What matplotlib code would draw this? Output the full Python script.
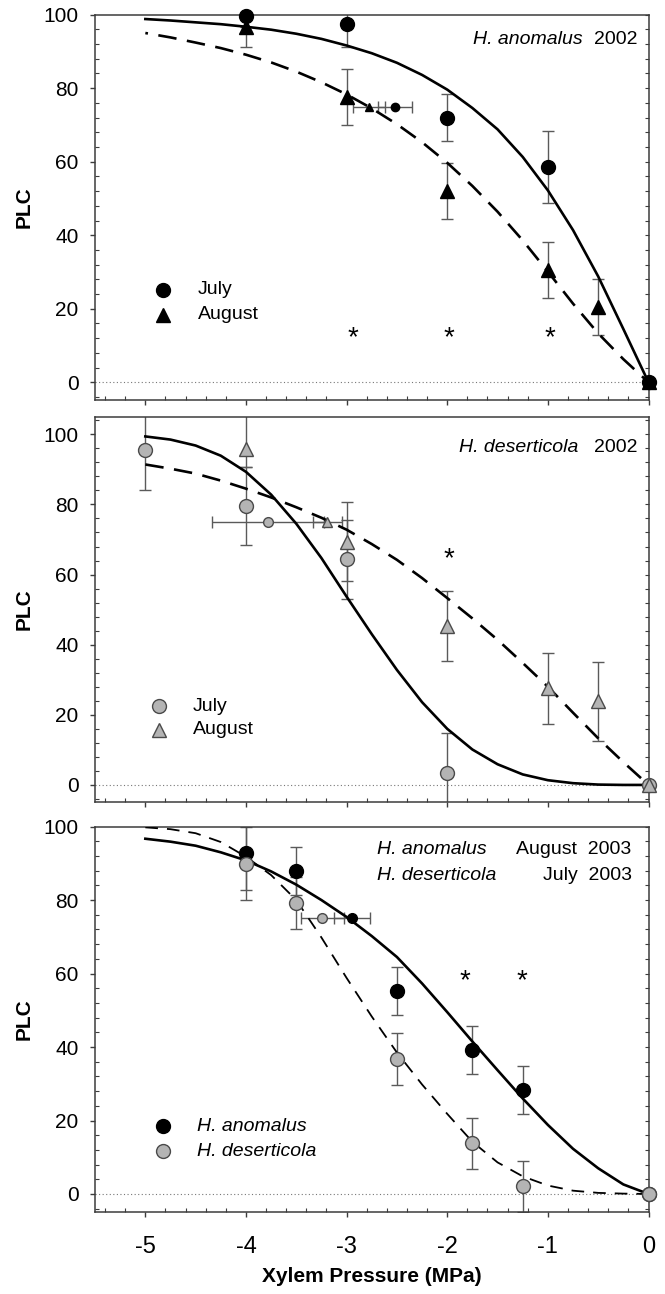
import numpy as np
import matplotlib.pyplot as plt
from matplotlib.ticker import MultipleLocator

plt.rcParams['font.family'] = ['Liberation Sans', 'DejaVu Sans']

GRAY = '#b4b4b4'
EDGE = '#4a4a4a'
ERRC = '#5a5a5a'

# fitted curves, every 0.25 MPa
fit_x = [-5.0, -4.75, -4.5, -4.25, -4.0, -3.75, -3.5, -3.25, -3.0, -2.75, -2.5,
         -2.25, -2.0, -1.75, -1.5, -1.25, -1.0, -0.75, -0.5, -0.25, 0.0]

# --- panel 1: H. anomalus 2002
a02_jul_fit = [98.8, 98.4, 97.9, 97.4, 96.7, 95.9, 94.8, 93.4, 91.6, 89.5, 86.9,
               83.6, 79.6, 74.6, 68.8, 61.3, 52.2, 41.4, 28.8, 14.5, 0]
a02_aug_fit = [95.0, 93.8, 92.4, 90.9, 89.1, 87.0, 84.5, 81.6, 78.3, 74.5, 70.2,
               65.3, 59.7, 53.4, 46.4, 38.6, 30.1, 21.4, 13.3, 6.3, 0]
a02_jul_x = [-4, -3, -2, -1, 0]
a02_jul_y = [99.5, 97.5, 72, 58.5, 0]
a02_jul_e = [3, 6.4, 6.5, 9.8, 0]
a02_aug_x = [-4, -3, -2, -1, -0.5, 0]
a02_aug_y = [96.5, 77.5, 52, 30.5, 20.5, 0]
a02_aug_e = [5.2, 7.6, 7.7, 7.6, 7.6, 0]
a02_p50 = [-2.52, -2.78]      # July, August
a02_p50_e = [0.17, 0.16]
a02_stars = [-2.94, -1.98, -0.98]

# --- panel 2: H. deserticola 2002
d02_jul_fit = [99.4, 98.5, 96.8, 93.9, 89.3, 82.8, 74.5, 64.7, 53.7, 43.0, 32.8,
               23.6, 16.0, 10.1, 5.9, 3.0, 1.35, 0.5, 0.1, 0, 0]
d02_aug_fit = [91.4, 90.2, 88.8, 86.8, 84.5, 82.0, 79.2, 76.2, 72.8, 68.7, 64.2,
               59.0, 53.3, 47.5, 41.4, 34.8, 28.0, 20.6, 13.3, 6.5, 0]
d02_jul_x = [-5, -4, -3, -2, 0]
d02_jul_y = [95.4, 79.5, 64.4, 3.5, 0]
d02_jul_e = [11.2, 11.1, 11.3, 11.2, 0]
d02_aug_x = [-4, -3, -2, -1, -0.5, 0]
d02_aug_y = [95.8, 69.4, 45.4, 27.6, 23.9, 0]
d02_aug_lo = [5.2, 11.3, 10.0, 10.2, 11.4, 0]
d02_aug_hi = [10.0, 11.3, 10.0, 10.0, 11.2, 0]
d02_p50 = [-3.78, -3.19]
d02_p50_e = [0.56, 0.14]
d02_stars = [-1.98]

# --- panel 3: 2003
y03_ano_fit = [96.7, 95.9, 94.8, 93.0, 90.8, 87.8, 84.2, 80.0, 75.4, 70.2, 64.5,
               57.3, 49.5, 41.5, 33.7, 26.0, 18.8, 12.3, 7.0, 2.6, 0]
y03_des_fit = [99.8, 99.3, 98.2, 95.8, 91.8, 86.8, 80.0, 69.8, 58.8, 48.3, 38.5,
               29.8, 21.8, 14.2, 8.6, 4.8, 2.3, 0.9, 0.3, 0.1, 0]
y03_ano_x = [-4, -3.5, -2.5, -1.75, -1.25, 0]
y03_ano_y = [92.8, 87.9, 55.2, 39.2, 28.3, 0]
y03_ano_e = [10.0, 6.5, 6.5, 6.5, 6.5, 0]
y03_des_x = [-4, -3.5, -2.5, -1.75, -1.25, 0]
y03_des_y = [89.9, 79.2, 36.7, 13.8, 2.1, 0]
y03_des_e = [10.0, 7.0, 7.0, 6.9, 6.9, 0]
y03_p50 = [-2.95, -3.24]      # anomalus, deserticola
y03_p50_e = [0.18, 0.21]
y03_stars = [-1.82, -1.26]

TXT = 14

fig = plt.figure(figsize=(6.65, 12.94), dpi=100)
axes = [fig.add_axes([0.1429, 0.6909, 0.8323, 0.2978]),
        fig.add_axes([0.1429, 0.3804, 0.8323, 0.2975]),
        fig.add_axes([0.1429, 0.0631, 0.8323, 0.2981])]
ylims = [(-4.8, 100), (-4.8, 105), (-5, 100)]


def style(ax, ylim, bottom_labels):
    ax.set_xlim(-5.5, 0)
    ax.set_ylim(*ylim)
    for s in ax.spines.values():
        s.set_color('#3c3c3c')
        s.set_linewidth(1.1)
    ax.xaxis.set_major_locator(MultipleLocator(1))
    ax.xaxis.set_minor_locator(MultipleLocator(0.2))
    ax.yaxis.set_major_locator(MultipleLocator(20))
    ax.yaxis.set_minor_locator(MultipleLocator(4))
    ax.tick_params(axis='both', which='major', direction='out', length=3.8,
                   width=1, color='#3c3c3c', top=False, right=False)
    ax.tick_params(axis='both', which='minor', direction='in', length=3,
                   width=0.8, color='#3c3c3c', top=False, right=False)
    ax.tick_params(axis='y', which='major', labelsize=15, pad=8)
    ax.tick_params(axis='x', which='major', labelsize=17, pad=13,
                   labelbottom=bottom_labels)
    ax.axhline(0, color='#777777', lw=0.8, ls=(0, (1, 2.2)), zorder=1)
    ax.set_ylabel('PLC', fontsize=15, fontweight='bold')
    ax.yaxis.set_label_coords(-0.111, 0.5)
    # right side ticks point inward
    sec = ax.secondary_yaxis('right')
    sec.yaxis.set_major_locator(MultipleLocator(20))
    sec.yaxis.set_minor_locator(MultipleLocator(4))
    sec.tick_params(which='both', direction='in', length=3, width=0.8,
                    color='#3c3c3c', labelright=False)
    sec.spines['right'].set_visible(False)


def errs(ax, x, y, e, horizontal=False):
    kw = dict(fmt='none', ecolor=ERRC, elinewidth=1.0, capsize=4.5,
              capthick=1.0, zorder=2)
    if horizontal:
        ax.errorbar(x, y, xerr=e, **kw)
    else:
        ax.errorbar(x, y, yerr=e, **kw)


def pts(ax, x, y, marker, face, size, edge='black'):
    ax.plot(x, y, ls='none', marker=marker, ms=size, mfc=face, mec=edge,
            mew=1.0, zorder=5, clip_on=False)


def star(ax, xs, y):
    for sx in xs:
        ax.text(sx, y, '*', fontsize=20, ha='center', va='center')


for ax, yl, lab in zip(axes, ylims, [False, False, True]):
    style(ax, yl, lab)

# ---------- panel 1
ax = axes[0]
errs(ax, a02_jul_x, a02_jul_y, a02_jul_e)
errs(ax, a02_aug_x, a02_aug_y, a02_aug_e)
errs(ax, a02_p50, [75, 75], a02_p50_e, horizontal=True)
ax.plot(fit_x, a02_jul_fit, color='black', lw=1.9, zorder=3)
ax.plot(fit_x, a02_aug_fit, color='black', lw=1.9, ls=(6, (7, 4)), zorder=3)
pts(ax, a02_aug_x, a02_aug_y, '^', 'black', 10)
pts(ax, a02_jul_x, a02_jul_y, 'o', 'black', 10)
pts(ax, [a02_p50[0]], [75], 'o', 'black', 6)
pts(ax, [a02_p50[1]], [75], '^', 'black', 6)
star(ax, a02_stars, 12.0)
ax.text(-0.655, 93.2, 'H. anomalus', fontsize=TXT, style='italic', ha='right', va='center')
ax.text(-0.11, 93.2, '2002', fontsize=TXT, ha='right', va='center')
pts(ax, [-4.826], [25.2], 'o', 'black', 10)
pts(ax, [-4.826], [18.4], '^', 'black', 10)
ax.text(-4.476, 25.2, 'July', fontsize=TXT, va='center')
ax.text(-4.476, 18.4, 'August', fontsize=TXT, va='center')

# ---------- panel 2
ax = axes[1]
errs(ax, d02_jul_x, d02_jul_y, d02_jul_e)
errs(ax, d02_aug_x, d02_aug_y, [d02_aug_lo, d02_aug_hi])
errs(ax, d02_p50, [75, 75], d02_p50_e, horizontal=True)
ax.plot(fit_x, d02_jul_fit, color='black', lw=1.9, zorder=3)
ax.plot(fit_x, d02_aug_fit, color='black', lw=1.9, ls=(0, (7, 4)), zorder=3)
pts(ax, d02_jul_x, d02_jul_y, 'o', GRAY, 10, EDGE)
pts(ax, d02_aug_x, d02_aug_y, '^', GRAY, 10, EDGE)
pts(ax, [d02_p50[0]], [75], 'o', GRAY, 7, EDGE)
pts(ax, [d02_p50[1]], [75], '^', GRAY, 7, EDGE)
star(ax, d02_stars, 64.5)
ax.text(-0.696, 96.3, 'H. deserticola', fontsize=TXT, style='italic', ha='right', va='center')
ax.text(-0.11, 96.3, '2002', fontsize=TXT, ha='right', va='center')
pts(ax, [-4.868], [22.5], 'o', GRAY, 10, EDGE)
pts(ax, [-4.868], [15.7], '^', GRAY, 10, EDGE)
ax.text(-4.531, 22.5, 'July', fontsize=TXT, va='center')
ax.text(-4.531, 15.7, 'August', fontsize=TXT, va='center')

# ---------- panel 3
ax = axes[2]
errs(ax, y03_ano_x, y03_ano_y, y03_ano_e)
errs(ax, y03_des_x, y03_des_y, y03_des_e)
errs(ax, y03_p50, [75, 75], y03_p50_e, horizontal=True)
ax.plot(fit_x, y03_ano_fit, color='black', lw=1.9, zorder=3)
ax.plot(fit_x, y03_des_fit, color='black', lw=1.3, ls=(0, (7, 5)), zorder=3)
pts(ax, y03_ano_x, y03_ano_y, 'o', 'black', 10)
pts(ax, y03_des_x, y03_des_y, 'o', GRAY, 10, EDGE)
pts(ax, [y03_p50[0]], [75], 'o', 'black', 7)
pts(ax, [y03_p50[1]], [75], 'o', GRAY, 7, EDGE)
star(ax, y03_stars, 58.0)
ax.text(-2.698, 93.9, 'H. anomalus', fontsize=TXT, style='italic', va='center')
ax.text(-2.698, 86.7, 'H. deserticola', fontsize=TXT, style='italic', va='center')
ax.text(-0.169, 93.9, 'August  2003', fontsize=TXT, ha='right', va='center')
ax.text(-0.169, 86.7, 'July  2003', fontsize=TXT, ha='right', va='center')
pts(ax, [-4.826], [18.4], 'o', 'black', 10)
pts(ax, [-4.826], [11.6], 'o', GRAY, 10, EDGE)
ax.text(-4.489, 18.4, 'H. anomalus', fontsize=TXT, style='italic', va='center')
ax.text(-4.489, 11.6, 'H. deserticola', fontsize=TXT, style='italic', va='center')
ax.set_xticks([-5, -4, -3, -2, -1, 0])
ax.set_xticklabels(['-5', '-4', '-3', '-2', '-1', '0'])
ax.set_xlabel('Xylem Pressure (MPa)', fontsize=15, fontweight='bold', labelpad=7)

fig.savefig('out.png', dpi=100)
